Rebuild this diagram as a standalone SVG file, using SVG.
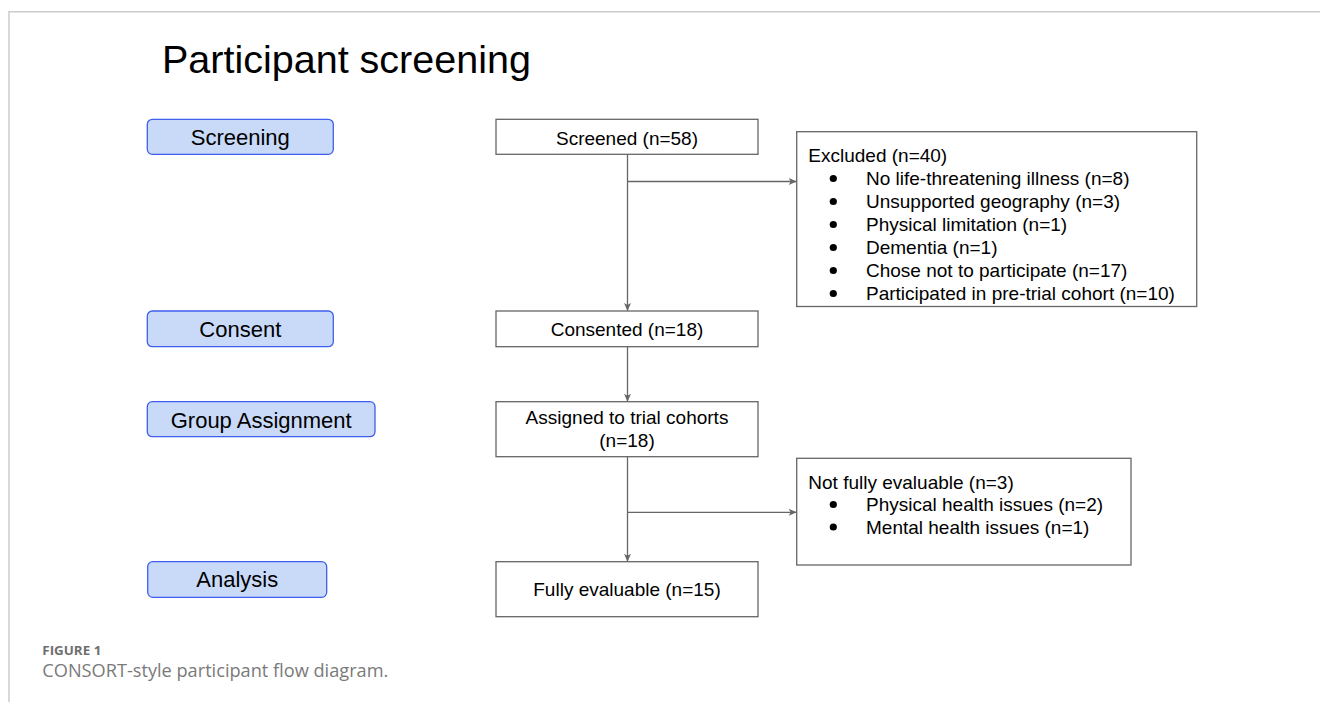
<svg xmlns="http://www.w3.org/2000/svg" width="1320" height="702" viewBox="0 0 1320 702">
<defs>
<style>
.t{font-family:"Liberation Sans",Arial,sans-serif;fill:#000}
.lab{fill:#c9daf8;stroke:#3f5ef0;stroke-width:1.3}
.box{fill:#fff;stroke:#666;stroke-width:1.3}
.lbl{font-size:22px;text-anchor:middle}
.fb{font-size:19px}
.c{font-size:19px;text-anchor:middle}
.con{stroke:#666;stroke-width:1.3;fill:none}
.cap{font-family:"Open Sans","Liberation Sans",sans-serif}
</style>
<marker id="ah" markerUnits="userSpaceOnUse" markerWidth="10" markerHeight="10" viewBox="0 0 10 10" refX="9" refY="5" orient="auto">
<path d="M1,1.5 L9,5 L1,8.5 L3,5 z" fill="#666"/>
</marker>
</defs>
<rect width="1320" height="702" fill="#fff"/>
<path d="M9,702 V11.7 H1320" fill="none" stroke="#cccccc" stroke-width="1.5"/>
<text class="t" x="162" y="73" font-size="39.5">Participant screening</text>

<g id="lab-screening"><rect class="lab" x="147.3" y="119.3" width="186" height="35" rx="5"/><text class="t lbl" x="240.3" y="145">Screening</text></g>
<g id="lab-consent"><rect class="lab" x="147.3" y="311" width="186" height="35.7" rx="5"/><text class="t lbl" x="240.3" y="336.7">Consent</text></g>
<g id="lab-group"><rect class="lab" x="147.3" y="401.7" width="227.7" height="35" rx="5"/><text class="t lbl" x="261.2" y="427.5">Group Assignment</text></g>
<g id="lab-analysis"><rect class="lab" x="147.7" y="561.7" width="179" height="35.6" rx="5"/><text class="t lbl" x="237.2" y="587">Analysis</text></g>

<g id="screened"><rect class="box" x="496" y="119.3" width="262" height="35"/><text class="t c" x="627" y="145">Screened (n=58)</text></g>
<g id="consented"><rect class="box" x="496" y="311" width="262" height="35.7"/><text class="t c" x="627" y="336">Consented (n=18)</text></g>
<g id="assigned"><rect class="box" x="496" y="401.7" width="262" height="55"/><text class="t c" x="627" y="424.3">Assigned to trial cohorts</text><text class="t c" x="627" y="446.5">(n=18)</text></g>
<g id="fully"><rect class="box" x="496" y="561.7" width="262" height="55"/><text class="t c" x="627" y="596">Fully evaluable (n=15)</text></g>

<g id="excluded"><rect class="box" x="796.7" y="131.7" width="400" height="174.8"/>
<text class="t fb" x="808.3" y="162">Excluded (n=40)</text>
<g fill="#000"><circle cx="833.3" cy="178.5" r="3.6"/><circle cx="833.3" cy="201.5" r="3.6"/><circle cx="833.3" cy="224.5" r="3.6"/><circle cx="833.3" cy="247.5" r="3.6"/><circle cx="833.3" cy="270.5" r="3.6"/><circle cx="833.3" cy="293.5" r="3.6"/></g>
<text class="t fb" x="866" y="185">No life-threatening illness (n=8)</text>
<text class="t fb" x="866" y="208">Unsupported geography (n=3)</text>
<text class="t fb" x="866" y="231">Physical limitation (n=1)</text>
<text class="t fb" x="866" y="254">Dementia (n=1)</text>
<text class="t fb" x="866" y="277">Chose not to participate (n=17)</text>
<text class="t fb" x="866" y="300">Participated in pre-trial cohort (n=10)</text>
</g>

<g id="notfully"><rect class="box" x="796.7" y="458.3" width="334.3" height="106.7"/>
<text class="t fb" x="808.3" y="488.5">Not fully evaluable (n=3)</text>
<g fill="#000"><circle cx="833.3" cy="504.5" r="3.6"/><circle cx="833.3" cy="527" r="3.6"/></g>
<text class="t fb" x="866" y="511">Physical health issues (n=2)</text>
<text class="t fb" x="866" y="533.5">Mental health issues (n=1)</text>
</g>

<g id="connectors">
<path class="con" d="M627.5,154.3 V311" marker-end="url(#ah)"/>
<path class="con" d="M627.5,181.5 H796.7" marker-end="url(#ah)"/>
<path class="con" d="M627.5,346.7 V401.7" marker-end="url(#ah)"/>
<path class="con" d="M627.5,456.7 V561.7" marker-end="url(#ah)"/>
<path class="con" d="M627.5,512.3 H796.7" marker-end="url(#ah)"/>
</g>

<text class="cap" x="42.3" y="655" font-size="13" font-weight="bold" fill="#6f6f6f" textLength="59" lengthAdjust="spacingAndGlyphs">FIGURE 1</text>
<text class="cap" x="42.3" y="677" font-size="18" fill="#7a7a7a" textLength="346" lengthAdjust="spacingAndGlyphs">CONSORT-style participant flow diagram.</text>
</svg>
